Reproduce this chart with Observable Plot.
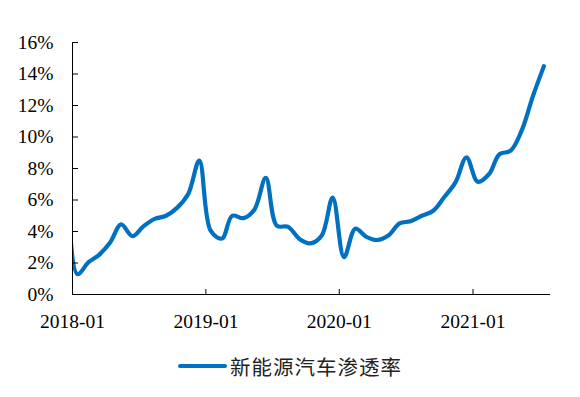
<!DOCTYPE html>
<html>
<head>
<meta charset="utf-8">
<script src="https://cdn.jsdelivr.net/npm/d3@7"></script>
<script src="https://cdn.jsdelivr.net/npm/@observablehq/plot@0.6"></script>
<style>
  body { margin: 0; background: #fff; }
  #chart { width: 580px; }
  .legend { display: flex; justify-content: center; align-items: center; height: 32px;
            font-family: "Noto Sans CJK SC", sans-serif; font-size: 20.5px; color: #222; letter-spacing: 1px; }
  .legend .swatch { display: inline-block; width: 49px; height: 4px; border-radius: 2px; background: #0070C0; margin-right: 3px; }
</style>
</head>
<body>
<div id="chart"></div>
<script>
// Months (first one lies just before the visible axis and is clipped)
const months = [
  "2017-12",
  "2018-01","2018-02","2018-03","2018-04","2018-05","2018-06","2018-07","2018-08","2018-09","2018-10","2018-11","2018-12",
  "2019-01","2019-02","2019-03","2019-04","2019-05","2019-06","2019-07","2019-08","2019-09","2019-10","2019-11","2019-12",
  "2020-01","2020-02","2020-03","2020-04","2020-05","2020-06","2020-07","2020-08","2020-09","2020-10","2020-11","2020-12",
  "2021-01","2021-02","2021-03","2021-04","2021-05","2021-06","2021-07"
];
// 新能源汽车渗透率 (%)
const penetration = [
  15.0,
  1.3, 2.05, 2.5, 3.3, 4.45, 3.7, 4.33, 4.8, 5.0, 5.5, 6.4, 8.5,
  4.05, 3.55, 5.0, 4.85, 5.4, 7.4, 4.37, 4.3, 3.53, 3.25, 3.75, 6.15,
  2.37, 4.18, 3.68, 3.46, 3.74, 4.52, 4.65, 5.0, 5.32, 6.17, 7.12, 8.7,
  7.16, 7.65, 8.9, 9.13, 10.4, 12.6, 14.5
];
const yTicks = [0, 2, 4, 6, 8, 10, 12, 14, 16];
const xTickLabels = ["2018-01", "2019-01", "2020-01", "2021-01"];
const seriesName = "新能源汽车渗透率";

const parseMonth = s => { const [y, m] = s.split("-").map(Number); return new Date(Date.UTC(y, m - 1, 14)); };
const monthStart = s => { const [y, m] = s.split("-").map(Number); return new Date(Date.UTC(y, m - 1, 1)); };
const data = months.map((m, i) => ({date: parseMonth(m), value: penetration[i]}));
const xTicks = xTickLabels.map(monthStart);
const xDomain = [monthStart("2018-01"), monthStart("2021-08")];

const font = "'Liberation Serif', 'Times New Roman', serif";

const chart = Plot.plot({
  width: 580,
  height: 350,
  marginLeft: 72,
  marginRight: 30,
  marginTop: 42,
  marginBottom: 56,
  style: {fontFamily: font, fontSize: "19.5px", color: "#000", background: "#fff"},
  x: {type: "utc", domain: xDomain},
  y: {domain: [0, 16]},
  marks: [
    Plot.line(data, {x: "date", y: "value", stroke: "#0070C0", strokeWidth: 4.2, curve: "catmull-rom", clip: true, strokeLinecap: "round", strokeLinejoin: "round"}),
    Plot.ruleY([0], {stroke: "#000", strokeWidth: 1}),
    Plot.ruleX([xDomain[0]], {stroke: "#000", strokeWidth: 1}),
    Plot.axisY({ticks: yTicks, tickSize: 0, tickPadding: 19, tickFormat: d => d + "%", label: null, fontSize: 19.5}),
    Plot.axisY({ticks: yTicks, tickSize: 6, dx: 6, text: null, label: null}),
    Plot.axisX({ticks: xTicks, tickSize: 0, tickPadding: 20, tickFormat: d3.utcFormat("%Y-%m"), label: null, fontSize: 19.5}),
    Plot.axisX({ticks: xTicks, tickSize: 5, dy: -5, text: null, label: null})
  ]
});
document.getElementById("chart").appendChild(chart);

const legend = document.createElement("div");
legend.className = "legend";
legend.innerHTML = `<span class="swatch"></span><span>${seriesName}</span>`;
document.getElementById("chart").appendChild(legend);
</script>
</body>
</html>
